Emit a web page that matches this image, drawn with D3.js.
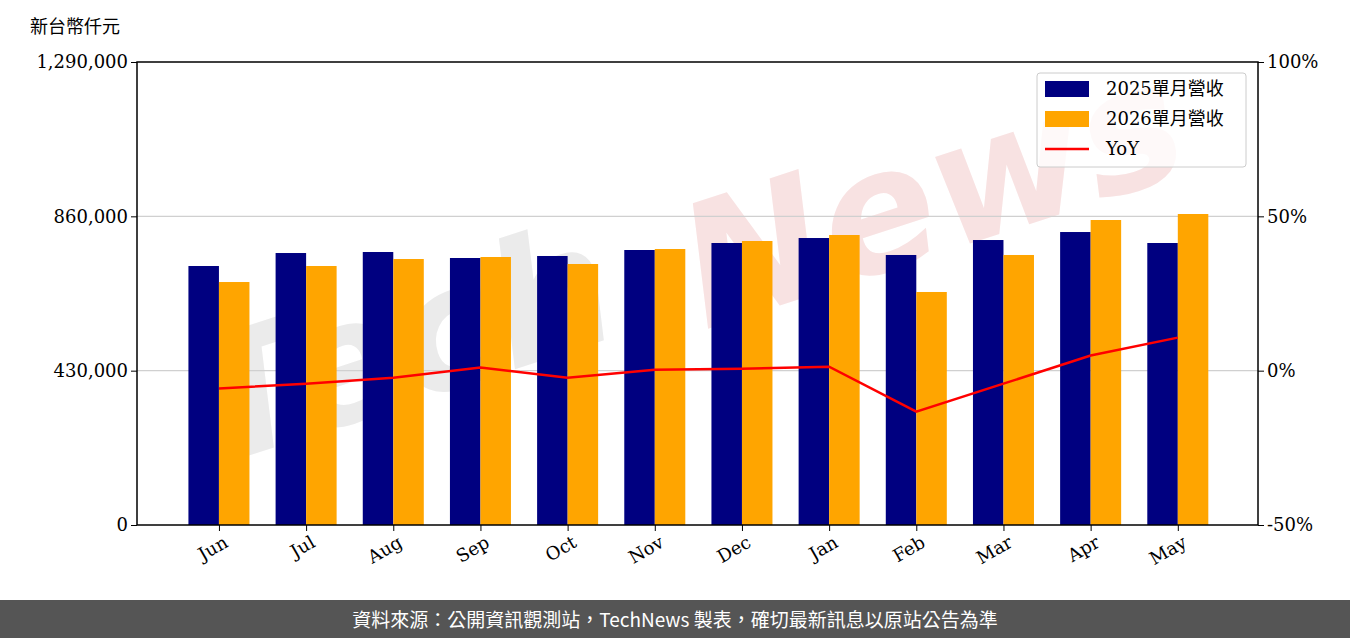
<!DOCTYPE html><html><head><meta charset="utf-8"><script src="https://cdn.jsdelivr.net/npm/d3@7"></script>
<style>body{margin:0;background:#fff}</style></head><body><svg id="c" width="1350" height="638"></svg>
<script>
const months=["Jun","Jul","Aug","Sep","Oct","Nov","Dec","Jan","Feb","Mar","Apr","May"];
const rev2025=[721600,757800,760600,743900,749500,766200,785700,799600,752300,794000,816300,785700];
const rev2026=[677000,721600,741100,746700,727200,769000,791300,808000,649200,752300,849800,866500];
const yoy=[-5.8,-4.2,-2.3,1.0,-2.3,0.3,0.6,1.3,-13.3,-4.2,4.9,10.7];
const leftTicks=[0,430000,860000,1290000];
const rightTicks=[-50,0,50,100];
const svg=d3.select("#c");
const L=137,R=1258,T=62,B=525;
const x=d3.scaleLinear().domain([-0.94,11.92]).range([L,R]);
const y=d3.scaleLinear().domain([0,1290000]).range([B,T]);
const y2=d3.scaleLinear().domain([-50,100]).range([B,T]);
const bw=x(0.35)-x(0);
const serif="DejaVu Serif";
// watermark
svg.append("text").attr("transform","translate(420,400) rotate(-18)").attr("text-anchor","middle")
 .attr("font-family","DejaVu Sans").attr("font-weight","bold").attr("font-style","italic").attr("font-size",170).attr("fill","#ebebeb").text("Tech");
svg.append("text").attr("transform","translate(950,250) rotate(-18)").attr("text-anchor","middle")
 .attr("font-family","DejaVu Sans").attr("font-weight","bold").attr("font-style","italic").attr("font-size",170).attr("fill","#f8e2e2").text("News");
// grid
svg.selectAll(".g").data(leftTicks.slice(1,3)).enter().append("line").attr("x1",L).attr("x2",R)
 .attr("y1",d=>y(d)).attr("y2",d=>y(d)).attr("stroke","#d0d0d0").attr("stroke-width",1.2);
svg.selectAll(".b1").data(rev2025).enter().append("rect").attr("x",(d,i)=>x(i)-bw).attr("width",bw)
 .attr("y",d=>y(d)).attr("height",d=>B-y(d)).attr("fill","#000080");
svg.selectAll(".b2").data(rev2026).enter().append("rect").attr("x",(d,i)=>x(i)).attr("width",bw)
 .attr("y",d=>y(d)).attr("height",d=>B-y(d)).attr("fill","#FFA500");
svg.append("path").datum(yoy).attr("fill","none").attr("stroke","#ff0000").attr("stroke-width",2.5)
 .attr("d",d3.line().x((d,i)=>x(i)).y(d=>y2(d)));
svg.append("rect").attr("x",L).attr("y",T).attr("width",R-L).attr("height",B-T).attr("fill","none").attr("stroke","#000").attr("stroke-width",1.5);
const ax=svg.append("g").attr("transform",`translate(${L},0)`).call(d3.axisLeft(y).tickValues(leftTicks).tickFormat(d3.format(",")).tickSizeOuter(0));
const ax2=svg.append("g").attr("transform",`translate(${R},0)`).call(d3.axisRight(y2).tickValues(rightTicks).tickFormat(d=>d+"%").tickSizeOuter(0));
const axb=svg.append("g").attr("transform",`translate(0,${B})`).call(d3.axisBottom(x).tickValues(d3.range(12)).tickFormat(i=>months[i]).tickSizeOuter(0));
[ax,ax2,axb].forEach(a=>{a.select(".domain").remove();a.selectAll("text").attr("font-family",serif).attr("font-size",18).attr("fill","#000");a.selectAll("line").attr("stroke","#000");});
axb.selectAll("text").attr("text-anchor","end").attr("transform","rotate(-30)").attr("dx","-2").attr("dy","14");
svg.append("text").attr("x",30).attr("y",33).attr("font-family","Noto Sans CJK TC").attr("font-size",18).text("新台幣仟元");
// legend
const lg=svg.append("g");
lg.append("rect").attr("x",1037).attr("y",73).attr("width",209).attr("height",94).attr("rx",3).attr("fill","#fff").attr("fill-opacity",0.8).attr("stroke","#ccc");
const items=[["2025單月營收","#000080","r"],["2026單月營收","#FFA500","r"],["YoY","#ff0000","l"]];
items.forEach((it,i)=>{const yy=89+i*30;
 if(it[2]=="r")lg.append("rect").attr("x",1045).attr("y",yy-8).attr("width",44).attr("height",16).attr("fill",it[1]);
 else lg.append("line").attr("x1",1045).attr("x2",1089).attr("y1",yy).attr("y2",yy).attr("stroke",it[1]).attr("stroke-width",2.5);
 lg.append("text").attr("x",1106).attr("y",yy+6).attr("font-family",serif+", Noto Sans CJK TC").attr("font-size",18).text(it[0]);});
svg.append("rect").attr("x",0).attr("y",600).attr("width",1350).attr("height",38).attr("fill","#555");
svg.append("text").attr("x",675).attr("y",627).attr("text-anchor","middle").attr("fill","#fff").attr("font-family","Noto Sans CJK TC").attr("font-size",19)
 .text("資料來源：公開資訊觀測站，TechNews 製表，確切最新訊息以原站公告為準");
</script></body></html>
